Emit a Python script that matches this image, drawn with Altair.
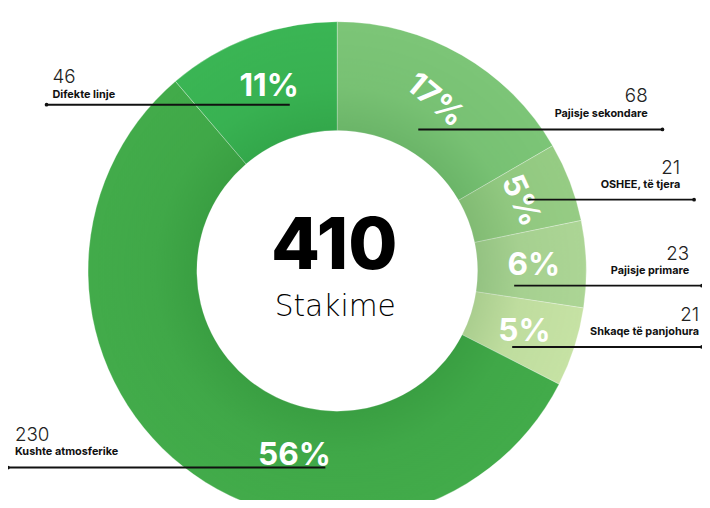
import math
import altair as alt
import pandas as pd

# ---------------- data ----------------
categories = ["Pajisje sekondare", "OSHEE, të tjera", "Pajisje primare",
              "Shkaqe të panjohura", "Kushte atmosferike", "Difekte linje"]
values = [68, 21, 23, 21, 230, 46]
percent_labels = ["17%", "5%", "6%", "5%", "56%", "11%"]
value_labels = ["68", "21", "23", "21", "230", "46"]
total_label = "410"
center_caption = "Stakime"

# ---------------- styles / layout ----------------
colors = ["#7cc577", "#96cc84", "#acd595", "#c6e2a4", "#42ab4a", "#3ab554"]
CX, CY = 333, 263          # donut centre (plot px)
R_OUT, R_IN = 252, 142
R_LABEL = 199
pct_angle = [40, 65, 0, 0, 0, 0]      # rotation of the % labels
FONT = "Inter"

# annotation layout (plot px)
ann_line_y = [120, 191, 278, 340, 462, 95]
ann_x0 = [415, 526, 512, 510, -1, 39]
ann_x1 = [662, 694, 702, 702, 321, 285]
ann_dot_x = [662, 694, 702, 702, 0, 39]
ann_text_x = [647, 680, 689, 699, 7, 45]
ann_align = ["right", "right", "right", "right", "left", "left"]
ann_num_y = [92, 165, 252, 314, 435, 73]
ann_cat_y = [107, 179, 266, 328, 449, 88]

df = pd.DataFrame({
    "cat": categories,
    "val": values,
    "pct": percent_labels,
    "num": value_labels,
    "idx": list(range(len(categories))),
    "rot": pct_angle,
})

color_scale = alt.Scale(domain=categories, range=colors)
base = alt.Chart(df)

arcs = base.mark_arc(radius=R_OUT, radius2=R_IN, stroke="white",
                     strokeWidth=0.6, strokeOpacity=0.5).encode(
    theta=alt.Theta("val:Q", stack=True),
    order=alt.Order("idx:Q"),
    color=alt.Color("cat:N", scale=color_scale, legend=None),
    x=alt.value(CX), y=alt.value(CY),
)

shade = alt.Chart(pd.DataFrame({"a": [0]})).mark_arc(
    radius=R_OUT, radius2=R_IN, theta=0, theta2=2 * math.pi,
    fill={"gradient": "radial", "x1": 0.5, "y1": 0.5, "x2": 0.5, "y2": 0.5,
          "r1": 0.5 * R_IN / R_OUT, "r2": 0.5,
          "stops": [{"offset": 0, "color": "rgba(10,90,20,0.15)"},
                    {"offset": 0.4, "color": "rgba(10,90,20,0.04)"},
                    {"offset": 1, "color": "rgba(10,90,20,0)"}]},
).encode(x=alt.value(CX), y=alt.value(CY))

pct_common = dict(radius=R_LABEL, font=FONT, fontSize=32, fontWeight=700,
                  color="white", align="center", baseline="middle")
pct_text = base.mark_text(**pct_common).encode(
    theta=alt.Theta("val:Q", stack=True),
    order=alt.Order("idx:Q"),
    text="pct:N",
    angle=alt.Angle("rot:Q", scale=None),
    x=alt.value(CX), y=alt.value(CY),
    opacity=alt.condition(alt.datum.idx == 4, alt.value(0), alt.value(1)),
)
pct_big = base.mark_text(dx=80, dy=30, **pct_common).encode(
    theta=alt.Theta("val:Q", stack=True),
    order=alt.Order("idx:Q"),
    text="pct:N",
    x=alt.value(CX), y=alt.value(CY),
    opacity=alt.condition(alt.datum.idx == 4, alt.value(1), alt.value(0)),
)

center_num = alt.Chart(pd.DataFrame({"t": [total_label]})).mark_text(
    font=FONT, fontSize=72, fontWeight=800, color="black",
    align="center", baseline="alphabetic").encode(
    text="t:N", x=alt.value(CX - 3), y=alt.value(CY - 2))
center_cap = alt.Chart(pd.DataFrame({"t": [center_caption]})).mark_text(
    font="DejaVu Sans", fontSize=30, fontWeight=200, color="black",
    align="center", baseline="alphabetic").encode(
    text="t:N", x=alt.value(CX - 2), y=alt.value(CY + 46))

layers = [arcs, shade, pct_text, pct_big, center_num, center_cap]

for i in range(len(categories)):
    one = alt.Chart(pd.DataFrame({"num": [value_labels[i]], "cat": [categories[i]]}))
    layers.append(one.mark_rule(color="#111111", strokeWidth=2).encode(
        x=alt.value(ann_x0[i]), x2=alt.value(ann_x1[i]), y=alt.value(ann_line_y[i])))
    layers.append(one.mark_point(filled=True, size=14, color="#111111", opacity=1).encode(
        x=alt.value(ann_dot_x[i]), y=alt.value(ann_line_y[i])))
    layers.append(one.mark_text(font=FONT, fontSize=19, fontWeight=300, color="#222222",
                                align=ann_align[i], baseline="alphabetic").encode(
        text="num:N", x=alt.value(ann_text_x[i]), y=alt.value(ann_num_y[i])))
    layers.append(one.mark_text(font=FONT, fontSize=11, fontWeight=700, color="#111111",
                                align=ann_align[i], baseline="alphabetic").encode(
        text="cat:N", x=alt.value(ann_text_x[i]), y=alt.value(ann_cat_y[i])))

chart = alt.layer(*layers).properties(
    width=702, height=492, padding=0, autosize="none"
).configure_view(stroke=None)

chart.save("out.html", embed_options={"renderer": "svg", "actions": False})
